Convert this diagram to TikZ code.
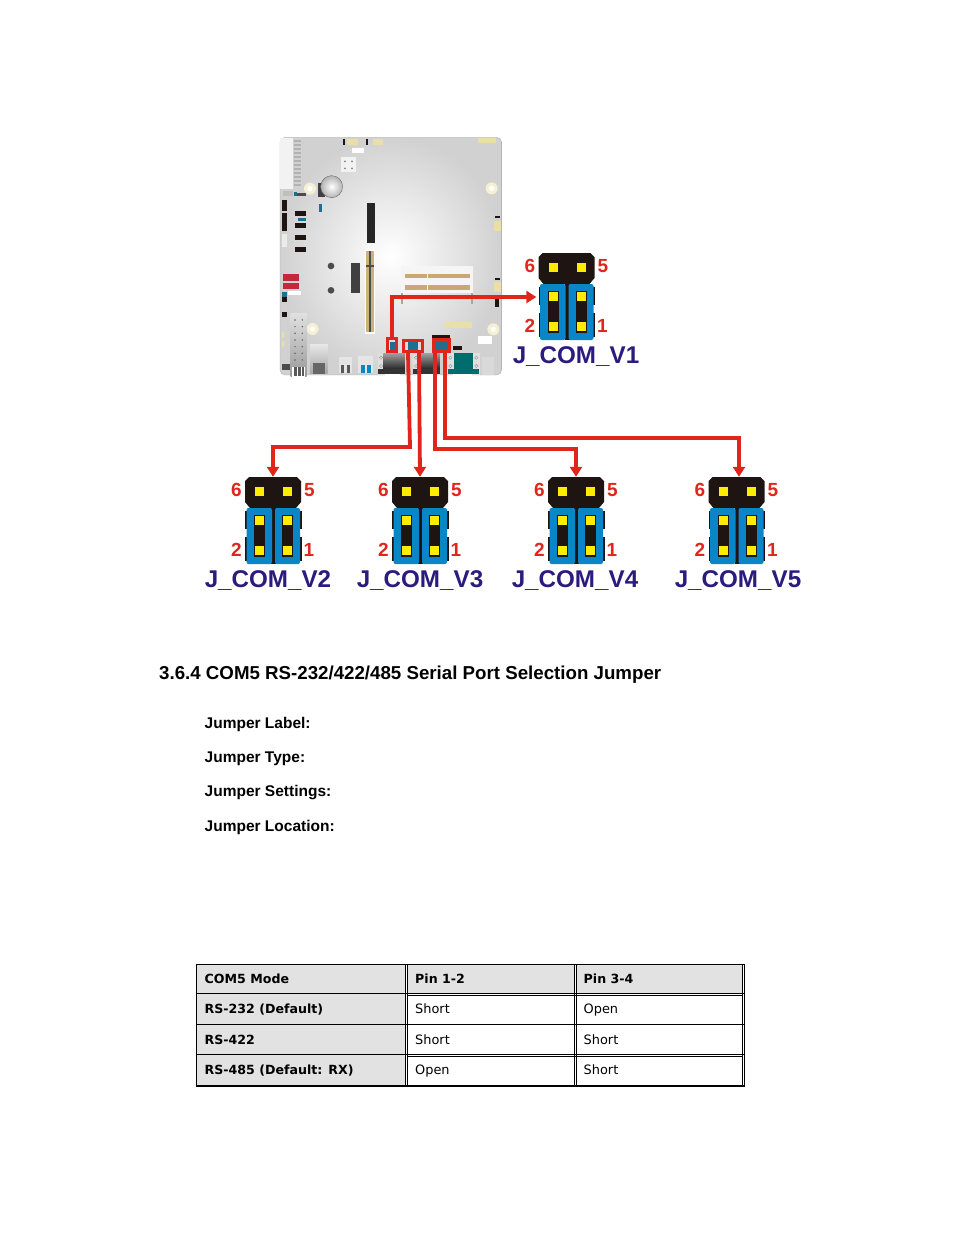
\documentclass[tikz,border=0pt]{standalone}
\usepackage{fontspec}
\setmainfont{Liberation Sans}
\newfontfamily\tablefont{DejaVu Sans}
\usetikzlibrary{arrows.meta}

\definecolor{jred}{HTML}{E0261C}
\definecolor{jblue}{HTML}{0A85C8}
\definecolor{jblack}{HTML}{1E1512}
\definecolor{jyellow}{HTML}{FFEC00}
\definecolor{jnavy}{HTML}{2B1B7E}
\definecolor{cellgray}{HTML}{E2E2E2}
\definecolor{tan}{HTML}{C9A873}
\definecolor{cream}{HTML}{EBDFA8}
\definecolor{sata}{HTML}{C4283C}
\definecolor{pinteal}{HTML}{1F6F8F}

\tikzset{
    redline/.style={jred, line width=3.8pt},
    redarrow/.style={redline, -{Triangle[length=10pt,width=12pt]}},
    redbox/.style={draw=jred, line width=3.3pt, inner sep=0pt},
    pinnum/.style={font=\bfseries\fontsize{19}{19}\selectfont, text=jred, inner sep=0pt},
    jname/.style={font=\bfseries\fontsize{24.2}{24}\selectfont, text=jnavy, inner sep=0pt},
    heading/.style={font=\bfseries\fontsize{18.7}{20}\selectfont, anchor=base west, inner sep=0pt},
    jlabel/.style={font=\bfseries\fontsize{15.5}{18}\selectfont, anchor=base west, inner sep=0pt},
    cellb/.style={font=\tablefont\bfseries\fontsize{12.6}{15}\selectfont, anchor=base west, inner sep=0pt},
    cellt/.style={font=\tablefont\fontsize{12.9}{15}\selectfont, anchor=base west, inner sep=0pt},
    thin line/.style={black, line width=0.8pt},
    thick line/.style={black, line width=1.7pt}
}

% jumper: name, centre x, top y, x of its label, y of its label
\newcommand{\jumper}[5]{
    \node[minimum width=55pt, minimum height=88pt, inner sep=0pt] (#1) at (#2, #3+44) {};
    \begin{scope}[shift={(#2,#3)}]
        \fill[jblack] (-24,0) -- (24,0) -- (28,4) -- (28,25) -- (23,31) -- (-23,31) -- (-28,25) -- (-28,4) -- cycle;
        \fill[jblack] (-28,34) rectangle (-24,52);
        \fill[jblack] (-28,60) rectangle (-24,84);
        \fill[jblack] (24,34) rectangle (28.5,52);
        \fill[jblack] (24,60) rectangle (28.5,84);
        \fill[jblack] (-2,31) rectangle (3,87);
        \fill[jblue, rounded corners=2pt] (-26.5,31) rectangle (-1,87);
        \fill[jblue, rounded corners=2pt] (2,31) rectangle (27,87);
        \fill[jblack] (-19,38) rectangle (-8,79.5);
        \fill[jblack] (9,38) rectangle (20,79.5);
        \fill[jyellow] (-18,10) rectangle (-9,19);
        \fill[jyellow] (10,10) rectangle (19,19);
        \fill[jyellow] (-18,39) rectangle (-9,48);
        \fill[jyellow] (10,39) rectangle (19,48);
        \fill[jyellow] (-18,69) rectangle (-9,78);
        \fill[jyellow] (10,69) rectangle (19,78);
        \node[pinnum] (#1six) at (-36.5,13) {6};
        \node[pinnum] (#1five) at (36.5,13) {5};
        \node[pinnum] (#1two) at (-36.5,72.5) {2};
        \node[pinnum] (#1one) at (36,72.5) {1};
    \end{scope}
    \node[jname] (#1name) at (#4,#5) {J\_COM\_#1};
}
\newcommand{\bx}[5]{\fill[#5] (#1,#2) rectangle (#3,#4);}

\begin{document}
\begin{tikzpicture}[x=1pt,y=-1pt]
    \useasboundingbox (0,0) rectangle (954,1235);
    \fill[white] (0,0) rectangle (954,1235);

    % board, in coordinates of three units per pixel
    \begin{scope}[shift={(270,130)},x=0.3333pt,y=-0.3333pt]
        \shade[inner color=white, outer color=black!18, draw=black!35, line width=0.3pt, rounded corners=5pt]
            (30,22) -- (695,22) -- (695,735) -- (30,735) -- cycle;
        % power connector and top row
        \bx{30}{24}{70}{178}{white!95!black}
        \foreach \y in {30,42,...,170} {\bx{72}{\y}{92}{\y+5}{black!30}}
        \bx{218}{28}{225}{44}{jblack}
        \bx{232}{27}{263}{46}{cream}
        \bx{288}{28}{295}{44}{jblack}
        \bx{310}{27}{340}{46}{cream}
        \bx{245}{53}{283}{68}{white}
        \bx{213}{82}{258}{127}{black!5}
        \foreach \x/\y in {225/94,246/94,225/115,246/115} {\fill[black!50] (\x,\y) circle (3);}
        \bx{625}{24}{678}{38}{cream}
        % battery and mounting holes
        \bx{145}{160}{165}{200}{black!75}
        \shade[inner color=white, outer color=black!30, draw=black!60] (185,170) circle (33);
        \foreach \x/\y in {120/176,665/175,128/597,670/598} {
            \fill[cream!50] (\x,\y) circle (18);
            \fill[white] (\x,\y) circle (8);
        }
        % headers on the left
        \bx{38}{182}{68}{198}{black!25}
        \bx{72}{186}{80}{198}{pinteal}
        \bx{80}{190}{108}{198}{black!70}
        \bx{35}{210}{50}{242}{jblack}
        \bx{35}{250}{50}{304}{jblack}
        \bx{75}{243}{107}{258}{jblack}
        \bx{85}{265}{107}{273}{pinteal}
        \bx{75}{280}{107}{295}{jblack}
        \bx{75}{316}{107}{330}{jblack}
        \bx{75}{351}{107}{365}{jblack}
        \bx{35}{312}{50}{352}{black!8}
        \bx{147}{222}{155}{246}{pinteal}
        % expansion slots
        \bx{290}{220}{314}{340}{black!85}
        \bx{284}{357}{316}{612}{white}
        \bx{288}{364}{312}{606}{tan!85!cream}
        \bx{298}{362}{302}{606}{black!70}
        \bx{288}{406}{312}{412}{black!70}
        \bx{242}{398}{270}{490}{black!75}
        \fill[black!70] (183,408) circle (10);
        \fill[black!70] (183,481) circle (10);
        % memory sockets
        \bx{394}{450}{400}{522}{black!35}
        \bx{603}{450}{610}{522}{black!35}
        \bx{392}{408}{610}{450}{black!4}
        \bx{405}{432}{470}{445}{tan}
        \bx{474}{432}{600}{445}{tan}
        \bx{392}{450}{610}{490}{black!4}
        \bx{405}{466}{470}{480}{tan}
        \bx{474}{466}{600}{480}{tan}
        % SATA and lower left
        \bx{38}{433}{88}{453}{sata}
        \bx{38}{460}{88}{478}{sata}
        \bx{37}{487}{52}{500}{pinteal}
        \bx{37}{500}{52}{515}{jblack}
        \bx{55}{482}{92}{496}{white}
        \bx{37}{545}{52}{560}{jblack}
        \bx{35}{605}{43}{625}{cream}
        \bx{35}{632}{43}{652}{cream}
        \bx{35}{703}{60}{720}{black!70}
        % right edge
        \bx{675}{257}{690}{263}{jblack}
        \bx{673}{272}{693}{302}{cream}
        \bx{675}{443}{690}{449}{jblack}
        \bx{673}{455}{693}{485}{cream}
        \bx{675}{507}{688}{530}{jblack}
        % lower middle
        \bx{525}{577}{605}{595}{cream}
        \bx{625}{618}{665}{642}{white}
        \bx{487}{614}{540}{626}{jblack}
        \bx{548}{647}{575}{660}{jblack}
        \bx{360}{635}{376}{662}{pinteal}
        \bx{414}{637}{445}{660}{pinteal}
        \bx{498}{635}{530}{660}{pinteal}
        % rear panel
        \shade[top color=black!12, bottom color=black!40] (62,550) rectangle (110,740);
        \foreach \y in {570,590,...,690} {\fill[black!60] (75,\y) circle (2.5); \fill[black!60] (97,\y) circle (2.5);}
        \bx{66}{712}{106}{740}{white}
        \bx{72}{712}{80}{738}{black!65}
        \bx{84}{712}{92}{738}{black!65}
        \bx{96}{712}{103}{738}{black!65}
        \shade[top color=black!10, bottom color=black!35] (120,645) rectangle (173,732);
        \bx{128}{700}{165}{732}{black!60}
        \bx{207}{680}{245}{730}{black!10}
        \bx{212}{705}{222}{730}{black!65}
        \bx{230}{705}{240}{730}{black!65}
        \bx{265}{677}{308}{730}{black!10}
        \bx{272}{705}{284}{730}{jblue}
        \bx{290}{705}{302}{730}{jblue}
        \foreach \l/\r in {325/405,430/510} {
            \bx{\l}{672}{\r}{735}{black!12}
            \shade[top color=black!40, bottom color=black!85] (\l+15,672) rectangle (\r,718);
            \bx{\l}{718}{\r}{732}{black!80}
            \bx{\l+20}{732}{\r-15}{748}{white}
            \draw[black!40] (\l+8,683) circle (5);
            \draw[black!40] (\l+8,708) circle (5);
        }
        \bx{530}{668}{630}{735}{black!12}
        \bx{552}{670}{608}{718}{teal!85!black}
        \bx{535}{718}{628}{732}{teal!85!black}
        \bx{550}{732}{605}{748}{white}
        \draw[black!40] (541,683) circle (5);
        \draw[black!40] (541,708) circle (5);
        \draw[black!40] (619,683) circle (5);
        \draw[black!40] (619,708) circle (5);
        \bx{635}{680}{672}{735}{black!15}
    \end{scope}

    \node[redbox, minimum width=9pt, minimum height=12.7pt] (boxa) at (392.2,345) {};
    \node[redbox, minimum width=19pt, minimum height=11pt] (boxb) at (413,346) {};
    \node[redbox, minimum width=15pt, minimum height=11.2pt] (boxc) at (441.5,345.5) {};

    \jumper{V1}{566.5}{253}{576}{357}
    \jumper{V2}{273}{477}{268}{581}
    \jumper{V3}{420}{477}{420}{581}
    \jumper{V4}{576}{477}{575}{581}
    \jumper{V5}{736.5}{477}{738}{581}

    \coordinate (elbowb) at (410,447);
    \coordinate (elbowc) at (435,449);
    \coordinate (elbowd) at (445,438);
    \draw[redarrow] (boxa.north) |- ([xshift=-2.5pt]V1.west);
    \draw[redarrow] ([xshift=-5pt]boxb.south) -- (elbowb) -| (V2.north);
    \draw[redarrow] ([xshift=6pt]boxb.south) -- (V3.north);
    \draw[redarrow] ([xshift=-6.5pt]boxc.south) -- (elbowc) -| (V4.north);
    \draw[redarrow] ([xshift=3.5pt]boxc.south) -- (elbowd) -| ([xshift=2.5pt]V5.north);

    \node[heading] (title) at (159,679) {3.6.4 COM5 RS-232/422/485 Serial Port Selection Jumper};
    \node[jlabel] (label) at (204.5,728) {Jumper Label:};
    \node[jlabel] (type) at (204.5,762) {Jumper Type:};
    \node[jlabel] (settings) at (204.5,796) {Jumper Settings:};
    \node[jlabel] (location) at (204.5,831) {Jumper Location:};

    % table
    \fill[cellgray] (197,965) rectangle (405,1086);
    \fill[cellgray] (408,965) rectangle (574,993);
    \fill[cellgray] (576,965) rectangle (742,993);
    \draw[thin line] (196,964.3) rectangle (744.5,1086);
    \draw[thin line] (405.5,964) -- (405.5,1086);
    \draw[thin line] (407.5,964) -- (407.5,1086);
    \draw[thin line] (574,964) -- (574,1086);
    \draw[thin line] (576,964) -- (576,1086);
    \draw[thin line] (742.5,964) -- (742.5,1086);
    \draw[thin line] (196,993.3) -- (744.5,993.3);
    \draw[thin line] (408,995.2) -- (742.5,995.2);
    \draw[thick line] (196,1024.5) -- (744.5,1024.5);
    \draw[thin line] (196,1054.4) -- (744.5,1054.4);
    \draw[thin line] (408,1056.2) -- (742.5,1056.2);
    \draw[thick line] (196,1086) -- (744.5,1086);

    \node[cellb] (moden) at (204.5,983) {COM5 Mode};
    \node[cellb] (pinb) at (415,983) {Pin 1-2};
    \node[cellb] (pind) at (583.5,983) {Pin 3-4};
    \node[cellb] (rsa) at (204.5,1013) {RS-232 (Default)};
    \node[cellt] (rsab) at (415,1013) {Short};
    \node[cellt] (rsad) at (583.5,1013) {Open};
    \node[cellb] (rsb) at (204.5,1044) {RS-422};
    \node[cellt] (rsbb) at (415,1044) {Short};
    \node[cellt] (rsbd) at (583.5,1044) {Short};
    \node[cellb] (rsc) at (204.5,1074) {RS-485 (Default: RX)};
    \node[cellt] (rscb) at (415,1074) {Open};
    \node[cellt] (rscd) at (583.5,1074) {Short};
\end{tikzpicture}
\end{document}
